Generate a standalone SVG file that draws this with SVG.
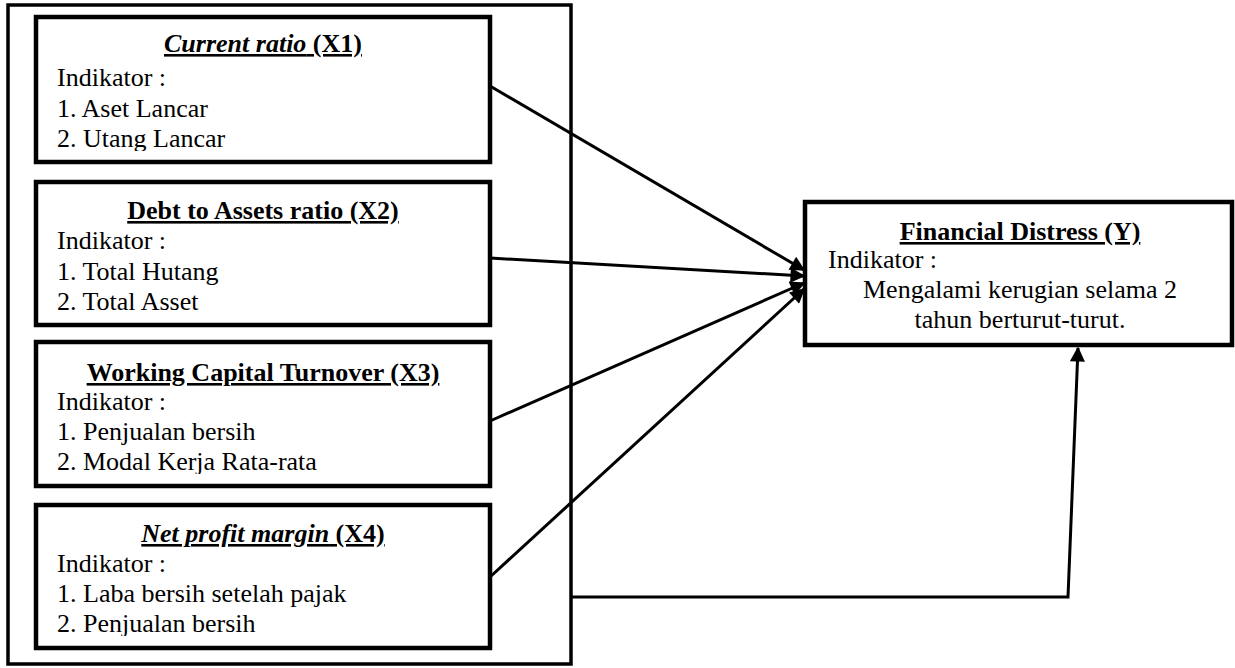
<svg xmlns="http://www.w3.org/2000/svg" width="1235" height="668" viewBox="0 0 1235 668">
<style>
.box{fill:#fff;stroke:#000;stroke-width:4.5}
.outer{fill:#fff;stroke:#000;stroke-width:3.5}
text{font-family:"Liberation Serif","Times New Roman",serif;font-size:26px;fill:#000}
.t{font-weight:bold;text-decoration:underline;text-anchor:middle}
.i{font-style:italic}
.c{text-anchor:middle}
.ln{fill:none;stroke:#000;stroke-width:3}
</style>
<defs>
<marker id="ah" viewBox="0 0 10 10" refX="9" refY="5" markerWidth="5.5" markerHeight="5" orient="auto" markerUnits="strokeWidth">
<path d="M0,0 L10,5 L0,10 z" fill="#000"/>
</marker>
<clipPath id="c1"><rect x="30" y="10" width="470" height="141"/></clipPath>
<clipPath id="c2"><rect x="30" y="175" width="470" height="140"/></clipPath>
<clipPath id="c3"><rect x="30" y="335" width="470" height="139"/></clipPath>
<clipPath id="c4"><rect x="30" y="498" width="470" height="138"/></clipPath>
</defs>
<rect class="outer" x="8" y="5" width="563" height="659"/>
<g id="x1">
<rect class="box" x="36" y="17" width="454" height="145"/>
<g clip-path="url(#c1)">
<text class="t" x="263" y="52"><tspan class="i">Current ratio</tspan> (X1)</text>
<text x="57" y="86">Indikator :</text>
<text x="57" y="117">1. Aset Lancar</text>
<text x="57" y="147">2. Utang Lancar</text>
</g>
</g>
<g id="x2">
<rect class="box" x="36" y="182" width="454" height="143"/>
<g clip-path="url(#c2)">
<text class="t" x="263" y="219">Debt to Assets ratio (X2)</text>
<text x="57" y="249">Indikator :</text>
<text x="57" y="280">1. Total Hutang</text>
<text x="57" y="310">2. Total Asset</text>
</g>
</g>
<g id="x3">
<rect class="box" x="36" y="342" width="454" height="144"/>
<g clip-path="url(#c3)">
<text class="t" x="263" y="381">Working Capital Turnover (X3)</text>
<text x="57" y="410">Indikator :</text>
<text x="57" y="440">1. Penjualan bersih</text>
<text x="57" y="470">2. Modal Kerja Rata-rata</text>
</g>
</g>
<g id="x4">
<rect class="box" x="36" y="505" width="454" height="143"/>
<g clip-path="url(#c4)">
<text class="t" x="263" y="542"><tspan class="i">Net profit margin</tspan> (X4)</text>
<text x="57" y="572">Indikator :</text>
<text x="57" y="602">1. Laba bersih setelah pajak</text>
<text x="57" y="632">2. Penjualan bersih</text>
</g>
</g>
<g id="y">
<rect class="box" x="805" y="202" width="427" height="143"/>
<text class="t" x="1020" y="240">Financial Distress (Y)</text>
<text x="828" y="268">Indikator :</text>
<text class="c" x="1020" y="298">Mengalami kerugian selama 2</text>
<text class="c" x="1020" y="328">tahun berturut-turut.</text>
</g>
<g id="connectors">
<line class="ln" x1="490" y1="86" x2="804" y2="270" marker-end="url(#ah)"/>
<line class="ln" x1="490" y1="258" x2="804" y2="276" marker-end="url(#ah)"/>
<line class="ln" x1="490" y1="421" x2="804" y2="283" marker-end="url(#ah)"/>
<line class="ln" x1="490" y1="577" x2="804" y2="289" marker-end="url(#ah)"/>
<polyline class="ln" points="571,597 1068,597 1078,348" marker-end="url(#ah)"/>
</g>
</svg>
